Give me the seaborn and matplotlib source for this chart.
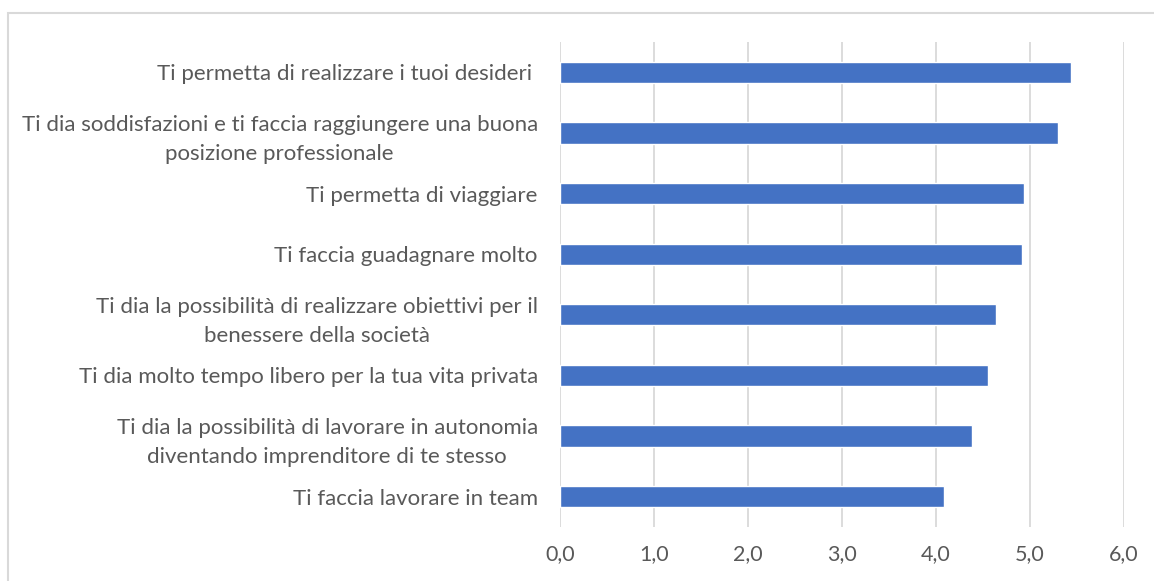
import matplotlib
matplotlib.use("Agg")
import matplotlib.pyplot as plt
import seaborn as sns
import pandas as pd
from matplotlib.patches import Rectangle

# data
labels = [
    "Ti permetta di realizzare i tuoi desideri ",
    "Ti dia soddisfazioni e ti faccia raggiungere una buona\nposizione professionale",
    "Ti permetta di viaggiare",
    "Ti faccia guadagnare molto",
    "Ti dia la possibilità di realizzare obiettivi per il\nbenessere della società",
    "Ti dia molto tempo libero per la tua vita privata",
    "Ti dia la possibilità di lavorare in autonomia\ndiventando imprenditore di te stesso",
    "Ti faccia lavorare in team",
]
scores = [5.44, 5.30, 4.94, 4.91, 4.64, 4.55, 4.38, 4.08]
x_ticks = [0, 1, 2, 3, 4, 5, 6]
x_tick_labels = ["0,0", "1,0", "2,0", "3,0", "4,0", "5,0", "6,0"]

df = pd.DataFrame({"label": labels, "score": scores})

sns.set_theme(style="white")
plt.rcParams["font.family"] = ["Lato", "DejaVu Sans"]

fig = plt.figure(figsize=(11.54, 5.81), dpi=100)
ax = fig.add_axes([560 / 1154, 1 - 527 / 581, (1124 - 560) / 1154, (527 - 42) / 581])

sns.barplot(data=df, x="score", y="label", orient="h", color="#4472C4",
            width=0.35, saturation=1, ax=ax)

ax.set_xlim(0, 6)
ax.set_xticks(x_ticks)
ax.set_xticklabels(x_tick_labels)
ax.xaxis.grid(True, color="#d9d9d9", linewidth=1.3)
ax.set_axisbelow(True)
for s in ax.spines.values():
    s.set_visible(False)
ax.set_xlabel("")
ax.set_ylabel("")
ax.tick_params(axis="x", length=0, pad=12, labelsize=15.5, labelcolor="#595959")
ax.tick_params(axis="y", length=0, pad=16, labelsize=16, labelcolor="#595959")
for t in ax.get_yticklabels():
    t.set_multialignment("center")
    t.set_linespacing(1.55)

# light chart border (only top and left visible in the crop)
fig.patches.append(Rectangle((8 / 1154, -0.1), 1.2, 1 - 13 / 581 + 0.1,
                             transform=fig.transFigure, fill=False,
                             edgecolor="#d9d9d9", linewidth=1.5))

fig.savefig("out.png", dpi=100)
